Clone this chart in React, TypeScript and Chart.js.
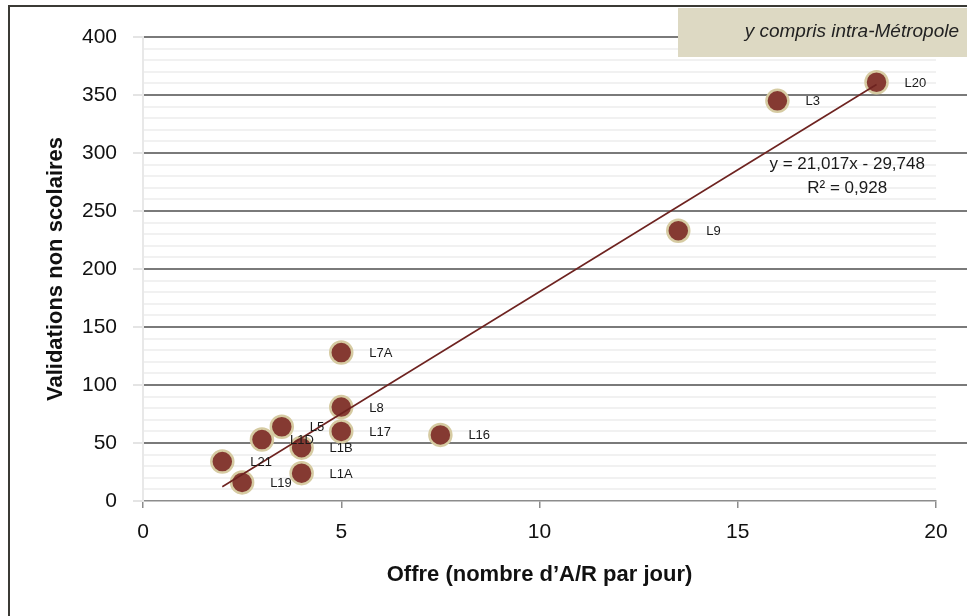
import React, { useEffect, useRef } from "react";
import { Chart, registerables } from "chart.js";

Chart.register(...registerables);

const lineNames = ["L20", "L3", "L9", "L7A", "L8", "L17", "L16", "L5", "L1D", "L1B", "L21", "L1A", "L19"];
const offre = [18.5, 16, 13.5, 5, 5, 5, 7.5, 3.5, 3, 4, 2, 4, 2.5];
const validations = [361, 345, 233, 128, 81, 60, 57, 64, 53, 46, 34, 24, 16];

const trendSlope = 21.017;
const trendIntercept = -29.748;
const trendRange = [2, 18.5];
const equationLines = ["y = 21,017x - 29,748", "R² = 0,928"];
const equationAnchor = { x: 17.76, y: 290 };
const boxText = "y compris intra-Métropole";

const xTitle = "Offre (nombre d’A/R par jour)";
const yTitle = "Validations non scolaires";

const FONT = "'Liberation Sans', Arial, sans-serif";

export default function App() {
  const ref = useRef<HTMLCanvasElement | null>(null);

  useEffect(() => {
    if (!ref.current) return;
    const scatterData = offre.map((x, i) => ({ x, y: validations[i] }));
    const trendData = trendRange.map((x) => ({ x, y: trendSlope * x + trendIntercept }));

    const decor = {
      id: "decor",
      beforeDraw(chart: any) {
        const ctx = chart.ctx;
        ctx.save();
        ctx.fillStyle = "#ffffff";
        ctx.fillRect(0, 0, chart.width, chart.height);
        ctx.restore();
      },
      afterDraw(chart: any) {
        const ctx = chart.ctx;
        const yScale = chart.scales.y;
        const area = chart.chartArea;
        ctx.save();
        ctx.strokeStyle = "#7a7a7a";
        ctx.lineWidth = 2;
        for (let v = 50; v <= 400; v += 50) {
          const py = Math.round(yScale.getPixelForValue(v));
          ctx.beginPath();
          ctx.moveTo(area.right, py);
          ctx.lineTo(chart.width, py);
          ctx.stroke();
        }
        ctx.fillStyle = "#DDD9C3";
        ctx.fillRect(678, 8, chart.width - 678, 49);
        ctx.fillStyle = "#222";
        ctx.font = `italic 19px ${FONT}`;
        ctx.textAlign = "right";
        ctx.textBaseline = "middle";
        ctx.fillText(boxText, 959, 32);
        ctx.strokeStyle = "#3b3a35";
        ctx.lineWidth = 2;
        ctx.strokeRect(9, 6, chart.width + 20, chart.height + 20);
        ctx.restore();
      },
      afterDatasetsDraw(chart: any) {
        const ctx = chart.ctx;
        const meta = chart.getDatasetMeta(1);
        ctx.save();
        ctx.fillStyle = "#1a1a1a";
        ctx.font = `13px ${FONT}`;
        ctx.textAlign = "left";
        ctx.textBaseline = "middle";
        meta.data.forEach((el: any, i: number) => {
          ctx.fillText(lineNames[i], el.x + 28, el.y + 1);
        });
        const xs = chart.scales.x;
        const ys = chart.scales.y;
        const ex = xs.getPixelForValue(equationAnchor.x);
        const ey = ys.getPixelForValue(equationAnchor.y);
        ctx.font = `17px ${FONT}`;
        ctx.textAlign = "center";
        ctx.fillText(equationLines[0], ex, ey);
        ctx.fillText(equationLines[1], ex, ey + 24);
        ctx.restore();
      },
    };

    const chart = new Chart(ref.current, {
      type: "scatter",
      data: {
        datasets: [
          {
            type: "line",
            data: trendData,
            borderColor: "#6e2320",
            borderWidth: 1.6,
            pointRadius: 0,
            fill: false,
            showLine: true,
          } as any,
          {
            type: "scatter",
            data: scatterData,
            backgroundColor: "#853A32",
            borderColor: "#D6CBA2",
            borderWidth: 2.5,
            pointRadius: 11,
          },
        ],
      },
      options: {
        animation: false,
        responsive: false,
        devicePixelRatio: 1,
        layout: { padding: { left: 0, right: 31, top: 37, bottom: 0 } },
        plugins: { legend: { display: false }, tooltip: { enabled: false } },
        scales: {
          x: {
            type: "linear",
            min: 0,
            max: 20,
            afterFit: (s: any) => {
              s.height = 115;
            },
            ticks: {
              stepSize: 5,
              padding: 12,
              color: "#111",
              font: { family: FONT, size: 21 },
            },
            grid: {
              drawOnChartArea: false,
              drawTicks: true,
              tickLength: 7,
              color: "#8c8c8c",
              lineWidth: 1.5,
            },
            border: { display: true, color: "#8c8c8c", width: 1.5 },
            title: {
              display: true,
              text: xTitle,
              color: "#111",
              font: { family: FONT, size: 22, weight: "bold" },
              padding: { top: 0, bottom: 28 },
            },
          },
          y: {
            type: "linear",
            min: 0,
            max: 400,
            afterFit: (s: any) => {
              s.width = 143;
            },
            ticks: {
              stepSize: 10,
              autoSkip: false,
              padding: 16,
              color: "#111",
              font: { family: FONT, size: 21 },
              callback: (v: any) => (Number(v) % 50 === 0 ? String(v) : ""),
            },
            grid: {
              drawTicks: true,
              tickLength: 10,
              color: (c: any) => {
                const v = c.tick ? c.tick.value : 0;
                if (v === 0) return "rgba(0,0,0,0)";
                return v % 50 === 0 ? "#7a7a7a" : "#f1f1f1";
              },
              tickColor: (c: any) => {
                const v = c.tick ? c.tick.value : 0;
                return v % 50 === 0 ? "#e4e4e4" : "rgba(0,0,0,0)";
              },
              lineWidth: 2,
            },
            border: { display: true, color: "#e8e8e8", width: 2 },
            title: {
              display: true,
              text: yTitle,
              color: "#111",
              font: { family: FONT, size: 22, weight: "bold" },
              padding: { top: 43, bottom: 0 },
            },
          },
        },
      },
      plugins: [decor],
    });
    return () => chart.destroy();
  }, []);

  return (
    <div style={{ position: "absolute", left: 0, top: 0, width: 967, height: 616 }}>
      <canvas ref={ref} width={967} height={616} style={{ width: 967, height: 616, display: "block" }} />
    </div>
  );
}
